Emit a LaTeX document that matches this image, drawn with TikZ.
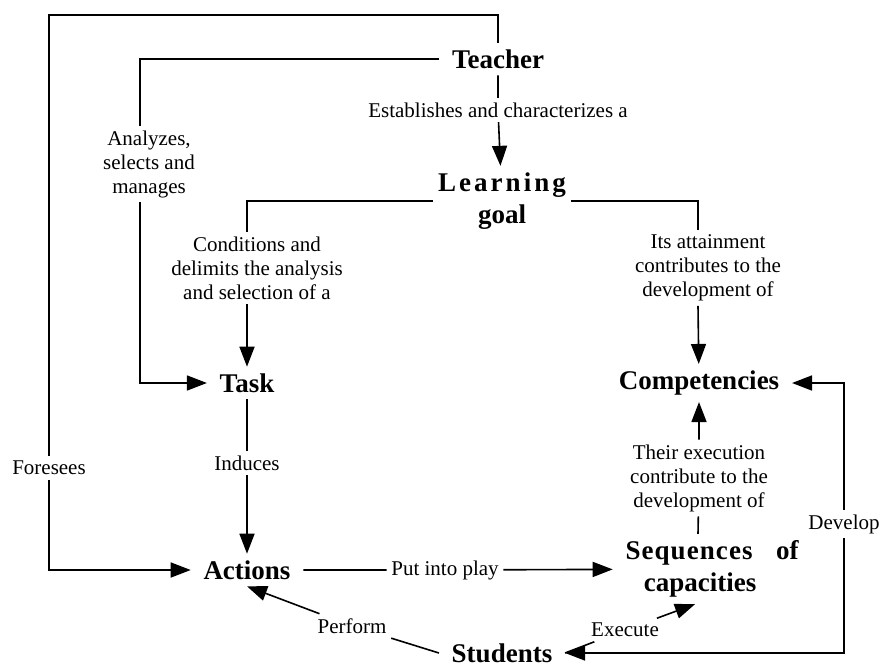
\documentclass[tikz,border=0pt]{standalone}
\usepackage{fontspec}
\setmainfont{Liberation Serif}
\usepackage{tikz}
\usetikzlibrary{arrows.meta}

\begin{document}
\begin{tikzpicture}[x=1pt,y=-1pt,line width=1.6pt,
        >={Triangle[length=20pt,width=15pt]},
        concept/.style={font=\bfseries\fontsize{27}{32}\selectfont,inner xsep=12pt,inner ysep=6pt,align=center},
        lbl/.style={font=\fontsize{21}{24}\selectfont,inner sep=4pt,align=center}]
        \useasboundingbox (0,0) rectangle (880,668);

        \node[concept]   (teacher)  at (498,59)   {Teacher};
        \node[concept, inner xsep=4pt] (goal) at (502,201)
                {\makebox[128pt]{L\hfill e\hfill a\hfill r\hfill n\hfill i\hfill n\hfill g}\\goal};
        \node[concept]   (task)     at (247,383)  {Task};
        \node[concept]   (comp)     at (699,383)  {Competencies};
        \node[concept]   (actions)  at (247,570)  {Actions};
        \node[concept]   (seq)      at (712,569)
                {\makebox[173pt]{{\addfontfeatures{LetterSpace=4}Sequences}\hfill of}\\\hspace*{-24pt}capacities};
        \node[concept]   (students) at (502,653)  {Students};

        \node[lbl] (estab)    at (498,110) {Establishes and characterizes a};
        \node[lbl] (analyzes) at (149,164) {Analyzes,\\selects and\\manages};
        \node[lbl] (cond)     at (257,268) {Conditions and\\delimits the analysis\\and selection of a};
        \node[lbl] (attain)   at (708,268) {Its attainment\\contributes to the\\development of};
        \node[lbl] (induces)  at (247,463) {Induces};
        \node[lbl] (foresees) at (49,468)  {Foresees};
        \node[lbl] (exec)     at (699,478) {Their execution\\contribute to the\\development of};
        \node[lbl] (play)     at (445,570) {Put into play};
        \node[lbl] (develop)  at (844,524) {Develop};
        \node[lbl] (perform)  at (352,626) {Perform};
        \node[lbl] (execute)  at (625,630) {Execute};

        \coordinate (corner) at (49,15);

        \draw (teacher) |- (corner) -- (foresees);
        \draw[->] (foresees) |- (actions);
        \draw (teacher) -| ([xshift=-9pt]analyzes.north);
        \draw[->] ([xshift=-9pt]analyzes.south) |- (task);
        \draw[->] (teacher) -- (estab) -- (goal);
        \draw (goal) -| ([xshift=-10pt]cond.north);
        \draw[->] ([xshift=-10pt]cond.south) -- (task);
        \draw (goal) -| ([xshift=-10pt]attain.north);
        \draw[->] ([xshift=-10pt]attain.south) -- (comp);
        \draw[->] (task) -- (induces) -- (actions);
        \draw[->] (actions) -- (play) -- (seq);
        \draw[->] ([xshift=-14pt]seq.north) -- (exec) -- (comp);
        \draw[->] (students.west) -- (perform) -- (actions.south);
        \draw[->] (students.east) -- (execute) -- ([xshift=-17pt]seq.south);
        \draw[->] (develop) |- (comp);
        \draw[->] (develop) |- (students);
\end{tikzpicture}
\end{document}
